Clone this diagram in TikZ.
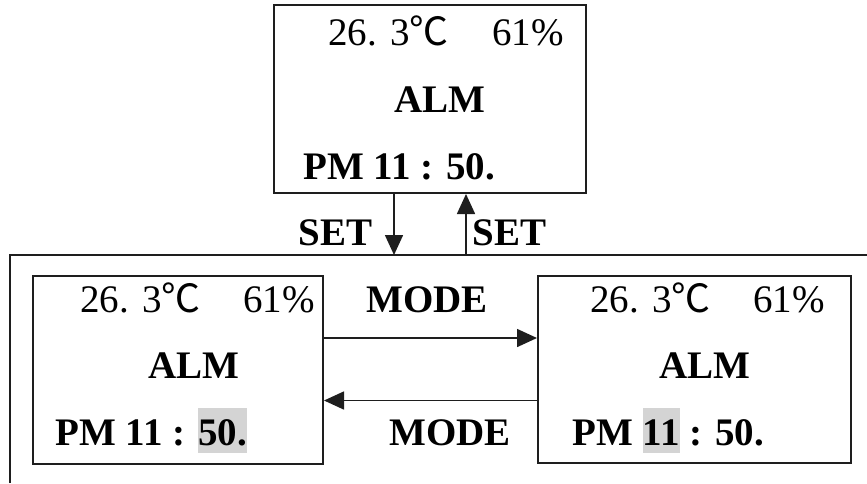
\documentclass[tikz,border=0pt]{standalone}
\usepackage{fontspec}
\setmainfont{Liberation Serif}
\newfontfamily\cjk{Noto Sans CJK SC}
\usetikzlibrary{arrows.meta, positioning}
\definecolor{lineDark}{RGB}{30, 30, 30}
\definecolor{hlGray}{RGB}{212, 212, 212}
\newcommand{\hlmark}[1]{{\setlength{\fboxsep}{0pt}\colorbox{hlGray}{\rule[-4pt]{0pt}{22.5pt}#1}}}
\newcommand{\degc}{{\cjk ℃}}

\begin{document}
\begin{tikzpicture}[
    x=0.5pt, y=-0.5pt,
    lcd/.style={rectangle, draw=lineDark, fill=white, line width=1pt, inner sep=0pt},
    num/.style={inner sep=0pt, anchor=base west, font=\fontsize{19.5}{23}\selectfont},
    lbl/.style={inner sep=0pt, font=\fontsize{19.5}{23}\selectfont\bfseries},
    arr/.style={-{Triangle[length=10pt, width=9pt]}, line width=0.8pt, draw=lineDark}
  ]
    \useasboundingbox (0,0) rectangle (867,483);

    % Outer frame (open towards the page edge)
    \coordinate (fbot) at (10,483);
    \coordinate (fcorner) at (10,255);
    \coordinate (fright) at (867,255);
    \draw[line width=1pt, draw=lineDark] (fbot) -- (fcorner) -- (fright);

    % Display Nodes
    \node[lcd, minimum width=156pt, minimum height=94pt] (top) at (430,99) {};
    \node[lcd, minimum width=145pt, minimum height=94pt] (lbox) at (178,370) {};
    \node[lcd, minimum width=156.5pt, minimum height=93.5pt] (rbox) at (694.5,369.5) {};

    % Display contents
    \node[num] (ttemp) at (328,45) {26. 3\degc};
    \node[num] (thum) at (492,45) {61\%};
    \node[lbl, anchor=base] (talm) at (440,112) {ALM};
    \node[lbl, anchor=base west] (ttime) at (303,179) {PM 11 : 50.};

    \node[num] (ltemp) at (80,312) {26. 3\degc};
    \node[num] (lhum) at (243,312) {61\%};
    \node[lbl, anchor=base] (lalm) at (194,378) {ALM};
    \node[lbl, anchor=base west] (ltime) at (55,445) {PM 11 : \hlmark{50.}};

    \node[num] (rtemp) at (590,312) {26. 3\degc};
    \node[num] (rhum) at (753,312) {61\%};
    \node[lbl, anchor=base] (ralm) at (704.5,378) {ALM};
    \node[lbl, anchor=base west] (rtime) at (572,445) {PM \hlmark{11} : 50.};

    % SET connectors
    \coordinate (fdown) at (394,255);
    \coordinate (fup) at (466,255);
    \draw[arr] (top.south -| fdown) -- (fdown);
    \draw[arr] (fup) -- (top.south -| fup);
    \node[lbl, anchor=base east] (setdown) at (373,245) {SET};
    \node[lbl, anchor=base west] (setup) at (472,245) {SET};

    % MODE connectors
    \draw[arr] ([yshift=16pt]lbox.east) -- ([yshift=16pt]lbox.east -| rbox.west);
    \draw[arr] ([yshift=-15.5pt]rbox.west) -- ([yshift=-15.5pt]rbox.west -| lbox.east);
    \node[lbl, anchor=base] (modeto) at (427,312) {MODE};
    \node[lbl, anchor=base] (modeback) at (450,445) {MODE};
  \end{tikzpicture}
\end{document}
